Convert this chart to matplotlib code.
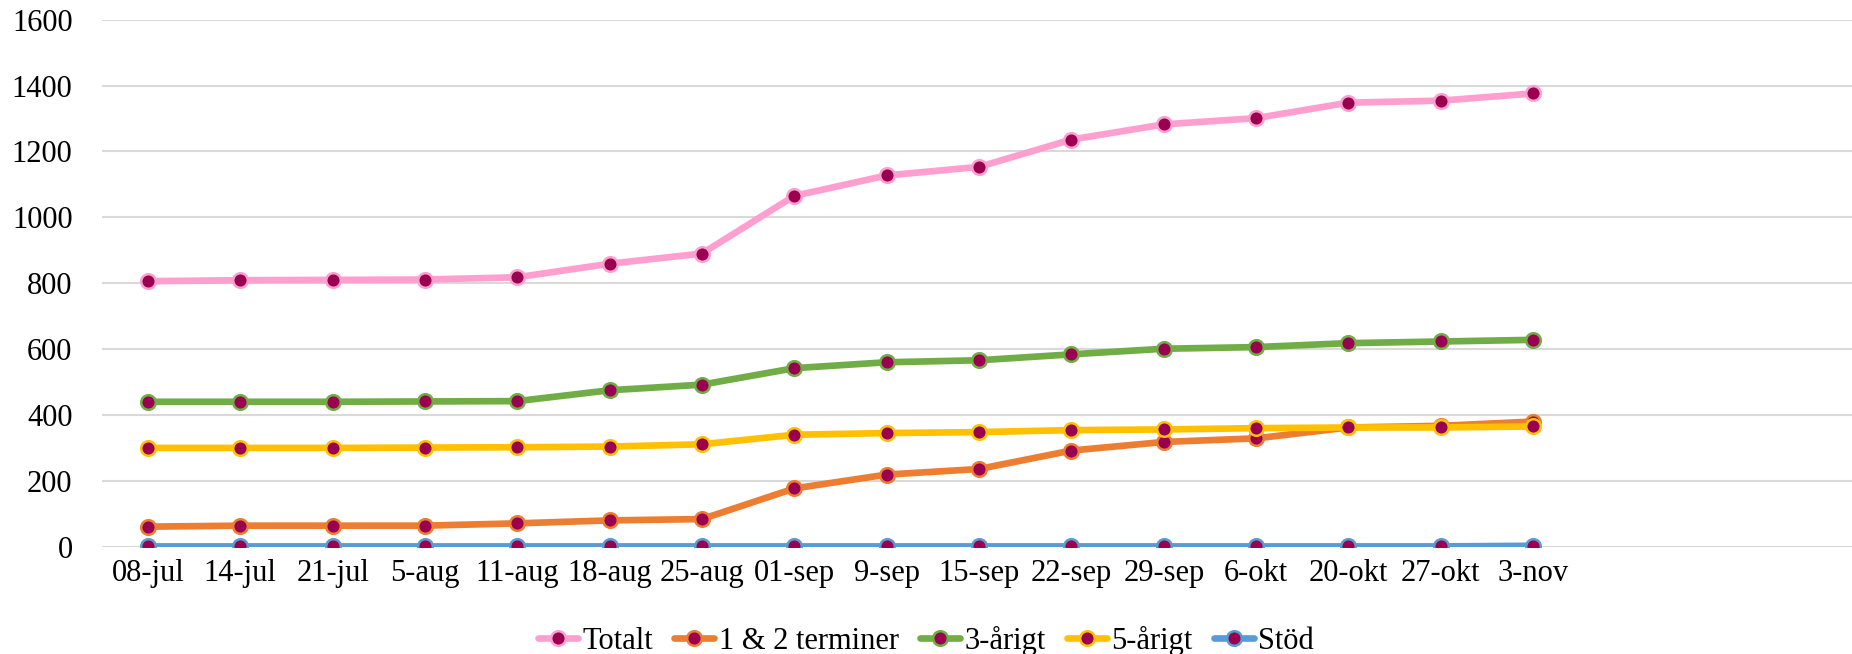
import numpy as np
import matplotlib.pyplot as plt

plt.rcParams['font.family'] = ['Liberation Serif', 'DejaVu Serif']

# categories and series
dates = ['08-jul', '14-jul', '21-jul', '5-aug', '11-aug', '18-aug', '25-aug', '01-sep',
         '9-sep', '15-sep', '22-sep', '29-sep', '6-okt', '20-okt', '27-okt', '3-nov']
totalt = [806, 809, 810, 811, 818, 859, 890, 1065, 1127, 1153, 1236, 1282, 1301, 1348, 1354, 1376]
terminer = [61, 64, 64, 64, 71, 80, 84, 177, 219, 236, 292, 318, 329, 362, 367, 380]
arigt3 = [440, 440, 440, 441, 442, 475, 492, 542, 560, 566, 584, 601, 606, 618, 623, 628]
arigt5 = [300, 300, 300, 301, 302, 304, 311, 340, 345, 348, 354, 356, 360, 362, 362, 365]
stod = [1, 1, 1, 1, 1, 1, 1, 1, 1, 1, 1, 1, 1, 1, 1, 3]

series = [('Totalt', totalt, '#FF9FD0'),
          ('1 & 2 terminer', terminer, '#ED7D31'),
          ('3-årigt', arigt3, '#70AD47'),
          ('5-årigt', arigt5, '#FFC000'),
          ('Stöd', stod, '#5B9BD5')]

fig = plt.figure(figsize=(18.52, 6.54), dpi=100)
ax = fig.add_axes([0.0549, 0.164, 0.945, 0.806])

x = np.arange(len(dates))
for name, vals, col in series:
    ax.plot(x, vals, color=col, lw=4.8, marker='o', markersize=10.5,
            markerfacecolor='#99004F', markeredgecolor=col, markeredgewidth=1.8,
            label=name, solid_capstyle='round', zorder=3)

ax.set_ylim(0, 1600)
ax.set_yticks(range(0, 1601, 200))
ax.set_xlim(-0.5, 18.45)
ax.set_xticks(x)
ax.set_xticklabels(dates)
ax.grid(axis='y', color='#D9D9D9', lw=1.5, zorder=0)
for s in ax.spines.values():
    s.set_visible(False)
ax.tick_params(axis='both', length=0, labelsize=22, colors='#000000')
ax.tick_params(axis='x', pad=9)
ax.tick_params(axis='y', pad=21)

fig.legend(loc='center', bbox_to_anchor=(0.5, 13 / 654), ncol=5, frameon=False,
           fontsize=22, handlelength=1.3, handletextpad=0.15, columnspacing=0.7)

fig.savefig('out.png', dpi=100)
